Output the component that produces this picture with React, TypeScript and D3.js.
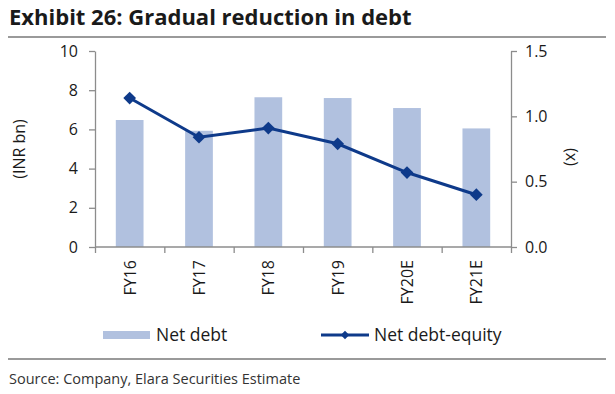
import { useEffect, useRef } from 'react';
import { select, scaleBand, scaleLinear, axisLeft, axisRight, axisBottom, line } from 'd3';

const categories = ['FY16', 'FY17', 'FY18', 'FY19', 'FY20E', 'FY21E'];
const netDebt = [6.48, 5.93, 7.64, 7.6, 7.09, 6.05];
const netDebtEquity = [1.14, 0.84, 0.91, 0.79, 0.57, 0.4];
const leftTicks = [0, 2, 4, 6, 8, 10];
const rightTicks = [0, 0.5, 1.0, 1.5];

const FONT = '"Open Sans", sans-serif';
const BAR = '#B1C1DF';
const LINE = '#0E3A8A';
const AXIS = '#8C8C8C';

export default function App() {
  const svgRef = useRef<SVGSVGElement>(null);

  useEffect(() => {
    if (!svgRef.current) return;
    const svg = select(svgRef.current);
    svg.selectAll('*').remove();

    const width = 615;
    const height = 394;
    const plot = { left: 95, right: 511, top: 51, bottom: 247 };

    svg.attr('width', width).attr('height', height).style('font-family', FONT);

    // Title and rules
    svg.append('text')
      .attr('x', 9)
      .attr('y', 25)
      .attr('font-size', 22)
      .attr('font-weight', 700)
      .attr('fill', '#1a1a1a')
      .text('Exhibit 26: Gradual reduction in debt');

    svg.append('line')
      .attr('x1', 5).attr('x2', 606)
      .attr('y1', 37).attr('y2', 37)
      .attr('stroke', '#9a9a9a').attr('stroke-width', 2);

    svg.append('line')
      .attr('x1', 5).attr('x2', 606)
      .attr('y1', 359).attr('y2', 359)
      .attr('stroke', '#9a9a9a').attr('stroke-width', 2);

    svg.append('text')
      .attr('x', 9)
      .attr('y', 384)
      .attr('font-size', 14.5)
      .attr('fill', '#333')
      .text('Source: Company, Elara Securities Estimate');

    // Scales
    const x = scaleBand<string>()
      .domain(categories)
      .range([plot.left, plot.right])
      .paddingInner(0.6)
      .paddingOuter(0.3);

    const yLeft = scaleLinear().domain([0, 10]).range([plot.bottom, plot.top]);
    const yRight = scaleLinear().domain([0, 1.5]).range([plot.bottom, plot.top]);

    // Bars
    svg.append('g')
      .selectAll('rect')
      .data(netDebt)
      .enter()
      .append('rect')
      .attr('x', (_, i) => x(categories[i]) || 0)
      .attr('y', (d) => yLeft(d))
      .attr('width', x.bandwidth())
      .attr('height', (d) => plot.bottom - yLeft(d))
      .attr('fill', BAR);

    // Axes
    const styleAxis = (g: any) => {
      g.select('.domain').attr('stroke', AXIS).attr('stroke-width', 1.3);
      g.selectAll('.tick line').attr('stroke', AXIS).attr('stroke-width', 1.3);
      g.selectAll('.tick text').attr('fill', '#1a1a1a').style('font-family', FONT).attr('font-size', 16);
    };

    svg.append('g')
      .attr('transform', `translate(${plot.left},0)`)
      .call(axisLeft(yLeft).tickValues(leftTicks).tickSize(6).tickSizeOuter(0).tickPadding(11))
      .call(styleAxis);

    svg.append('g')
      .attr('transform', `translate(${plot.right},0)`)
      .call(axisRight(yRight).tickValues(rightTicks).tickFormat((d: any) => Number(d).toFixed(1)).tickSize(6).tickSizeOuter(0).tickPadding(8))
      .call(styleAxis);

    // category boundary ticks on the x axis
    const step = x.step();
    const boundaries = categories.map((c) => (x(c) || 0) - (step - x.bandwidth()) / 2).concat([plot.right]);
    const xAxisScale = scaleLinear().domain([plot.left, plot.right]).range([plot.left, plot.right]);
    const xg = svg.append('g')
      .attr('transform', `translate(0,${plot.bottom})`)
      .call(axisBottom(xAxisScale).tickValues(boundaries).tickSize(6).tickSizeOuter(0).tickFormat(() => ''))
      .call(styleAxis);
    xg.select('.domain').attr('d', `M${plot.left},0H${plot.right}`);

    svg.append('g')
      .selectAll('text')
      .data(categories)
      .enter()
      .append('text')
      .attr('transform', (d) => `translate(${(x(d) || 0) + x.bandwidth() / 2 + 6},${plot.bottom + 13}) rotate(-90)`)
      .attr('text-anchor', 'end')
      .attr('font-size', 16)
      .attr('fill', '#1a1a1a')
      .text((d) => d);

    // Axis titles
    svg.append('text')
      .attr('transform', `translate(25,${(plot.top + plot.bottom) / 2}) rotate(-90)`)
      .attr('text-anchor', 'middle')
      .attr('font-size', 16)
      .attr('fill', '#1a1a1a')
      .text('(INR bn)');

    svg.append('text')
      .attr('transform', `translate(566,${(plot.top + plot.bottom) / 2 + 8}) rotate(90)`)
      .attr('text-anchor', 'middle')
      .attr('font-size', 16)
      .attr('fill', '#1a1a1a')
      .text('(x)');

    // Line
    const cx = (i: number) => (x(categories[i]) || 0) + x.bandwidth() / 2;
    const lineGen = line<number>()
      .x((_, i) => cx(i))
      .y((d) => yRight(d));

    svg.append('path')
      .datum(netDebtEquity)
      .attr('d', lineGen)
      .attr('fill', 'none')
      .attr('stroke', LINE)
      .attr('stroke-width', 3);

    svg.append('g')
      .selectAll('rect')
      .data(netDebtEquity)
      .enter()
      .append('rect')
      .attr('x', -4.5)
      .attr('y', -4.5)
      .attr('width', 9)
      .attr('height', 9)
      .attr('transform', (d, i) => `translate(${cx(i)},${yRight(d)}) rotate(45)`)
      .attr('fill', LINE);

    // Legend
    const ly = 335;
    svg.append('rect')
      .attr('x', 103).attr('y', ly - 4)
      .attr('width', 47).attr('height', 8)
      .attr('fill', BAR);
    svg.append('text')
      .attr('x', 156).attr('y', ly + 6)
      .attr('font-size', 17.5)
      .attr('fill', '#1a1a1a')
      .text('Net debt');

    svg.append('line')
      .attr('x1', 321).attr('x2', 369)
      .attr('y1', ly).attr('y2', ly)
      .attr('stroke', LINE).attr('stroke-width', 3);
    svg.append('rect')
      .attr('x', -3).attr('y', -3)
      .attr('width', 6).attr('height', 6)
      .attr('transform', `translate(345,${ly}) rotate(45)`)
      .attr('fill', LINE);
    svg.append('text')
      .attr('x', 374).attr('y', ly + 6)
      .attr('font-size', 17.5)
      .attr('fill', '#1a1a1a')
      .text('Net debt-equity');
  }, []);

  return (
    <div style={{ margin: -8 }}>
      <svg ref={svgRef} />
    </div>
  );
}
